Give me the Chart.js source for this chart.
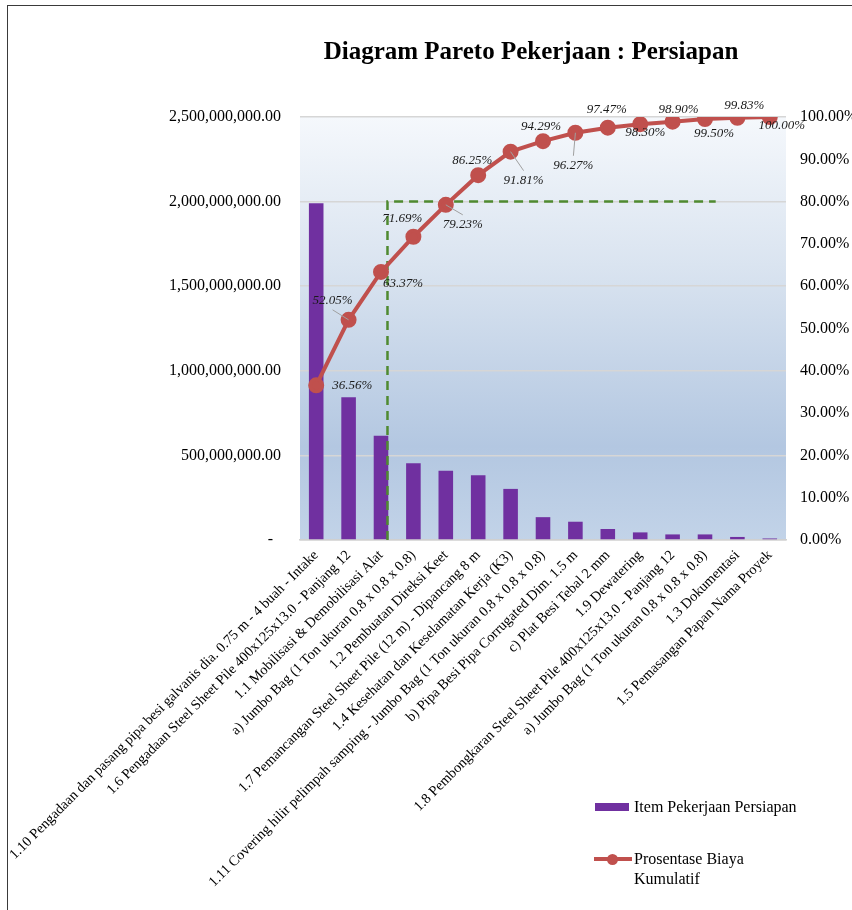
<!DOCTYPE html>
<html lang="id">
<head>
  <meta charset="UTF-8" />
  <title>Diagram Pareto Pekerjaan : Persiapan</title>
  <style>
    body {
      margin: 0;
      background: #fff;
      font-family: 'Liberation Serif', 'Times New Roman', serif;
      overflow: hidden;
    }
    .wrap {
      position: relative;
      width: 852px;
      height: 910px;
      overflow: hidden;
    }
    .frame {
      position: absolute;
      left: 7px;
      top: 5px;
      width: 900px;
      height: 1000px;
      border: 1.5px solid #3a3a3a;
    }
    h1 {
      position: absolute;
      left: 531px;
      top: 37px;
      margin: 0;
      transform: translateX(-50%);
      white-space: nowrap;
      font-size: 25px;
      font-weight: bold;
      color: #000;
    }
    canvas {
      position: absolute;
      left: 0;
      top: 0;
    }
    .legend {
      position: absolute;
      left: 594px;
      top: 797px;
      font-size: 16px;
      color: #000;
    }
    .legend .item {
      display: flex;
      align-items: flex-start;
      margin-bottom: 32px;
      line-height: 20px;
    }
    .legend .swatch {
      width: 36px;
      height: 20px;
      margin-right: 4px;
      position: relative;
      flex: none;
    }
    .legend .bar {
      position: absolute;
      left: 1px; top: 6px;
      width: 34px; height: 8px;
    }
    .legend .line {
      position: absolute;
      left: 0; top: 8px;
      width: 38px; height: 4px;
    }
    .legend .dot {
      position: absolute;
      left: 13px; top: 5px;
      width: 11px; height: 11px;
      border-radius: 50%;
    }
  </style>
</head>
<body>
  <div class="wrap">
    <div class="frame"></div>
    <canvas id="pareto" width="852" height="910"></canvas>
    <h1>Diagram Pareto Pekerjaan : Persiapan</h1>
    <div class="legend" id="legend"></div>
  </div>

  <script src="https://cdn.jsdelivr.net/npm/chart.js"></script>
  <script>
    // data
    const categories = [
      "1.10 Pengadaan dan pasang pipa besi galvanis dia. 0.75 m - 4 buah - Intake",
      "1.6 Pengadaan Steel Sheet Pile 400x125x13.0 - Panjang 12",
      "1.1 Mobilisasi & Demobilisasi Alat",
      "a) Jumbo Bag (1 Ton ukuran 0.8 x 0.8 x 0.8)",
      "1.2 Pembuatan Direksi Keet",
      "1.7 Pemancangan Steel Sheet Pile (12 m) - Dipancang 8 m",
      "1.4 Kesehatan dan Keselamatan Kerja (K3)",
      "1.11 Covering hilir pelimpah samping - Jumbo Bag (1 Ton ukuran 0.8 x 0.8 x 0.8)",
      "b) Pipa Besi Pipa Corrugated Dim. 1.5 m",
      "c) Plat Besi Tebal 2 mm",
      "1.9 Dewatering",
      "1.8 Pembongkaran Steel Sheet Pile 400x125x13.0 - Panjang 12",
      "a) Jumbo Bag (1 Ton ukuran 0.8 x 0.8 x 0.8)",
      "1.3 Dokumentasi",
      "1.5 Pemasangan Papan Nama Proyek"
    ];
    const itemCost = [
      1990000000, 843000000, 616000000, 453000000, 410000000,
      382000000, 302000000, 135000000, 108000000, 65000000,
      45000000, 33000000, 33000000, 18000000, 9000000
    ];
    const cumulativePct = [
      36.56, 52.05, 63.37, 71.69, 79.23, 86.25, 91.81, 94.29,
      96.27, 97.47, 98.30, 98.90, 99.50, 99.83, 100.00
    ];
    // 80% cut-off guide (x in category units)
    const cutoffX = [2.2, 2.2, 12.33];
    const cutoffY = [0, 80, 80];

    const costTicks = { max: 2500000000, step: 500000000 };
    const pctTicks = { max: 100, step: 10 };

    // where each percentage label sits relative to its point, and whether it has a leader line
    const labelPlace = [
      [36, 0, 0], [-16, -19, 1], [22, 12, 0], [-11, -18, 0], [17, 20, 1],
      [-6, -15, 0], [13, 29, 1], [-2, -15, 0], [-2, 33, 1], [-1, -18, 0],
      [5, 8, 0], [6, -12, 0], [9, 14, 0], [7, -12, 0], [12, 9, 0]
    ];

    const serif = "'Liberation Serif', 'Times New Roman', serif";
    const barColor = "#7030A0";
    const lineColor = "#C0504D";

    const plotBackground = {
      id: "plotBackground",
      beforeDraw(chart) {
        const { ctx, chartArea: a } = chart;
        const g = ctx.createLinearGradient(0, a.top, 0, a.bottom);
        g.addColorStop(0, "#f5f8fc");
        g.addColorStop(0.35, "#dae4f0");
        g.addColorStop(0.78, "#b3c7e1");
        g.addColorStop(1, "#c2d3e8");
        ctx.save();
        ctx.fillStyle = g;
        ctx.fillRect(a.left, a.top, a.right - a.left, a.bottom - a.top);
        ctx.restore();
      }
    };

    const pctLabels = {
      id: "pctLabels",
      afterDatasetsDraw(chart) {
        const ctx = chart.ctx;
        const meta = chart.getDatasetMeta(0);
        ctx.save();
        ctx.font = "italic 13px " + serif;
        ctx.textAlign = "center";
        ctx.textBaseline = "middle";
        meta.data.forEach((pt, i) => {
          const [dx, dy, leader] = labelPlace[i];
          const lx = pt.x + dx, ly = pt.y + dy;
          if (leader) {
            ctx.strokeStyle = "#a0a0a0";
            ctx.lineWidth = 1;
            ctx.beginPath();
            ctx.moveTo(pt.x, pt.y);
            ctx.lineTo(lx, ly + (dy < 0 ? 9 : -10));
            ctx.stroke();
          }
          ctx.fillStyle = "#1a1a1a";
          ctx.fillText(cumulativePct[i].toFixed(2) + "%", lx, ly);
        });
        ctx.restore();
      }
    };

    const chart = new Chart(document.getElementById("pareto"), {
      type: "bar",
      data: {
        labels: categories,
        datasets: [
          {
            type: "line",
            label: "Prosentase Biaya Kumulatif",
            data: cumulativePct,
            yAxisID: "yPct",
            borderColor: lineColor,
            backgroundColor: lineColor,
            borderWidth: 4,
            pointRadius: 6,
            pointHoverRadius: 6,
            order: 0
          },
          {
            type: "line",
            label: "cutoff",
            data: cutoffX.map((x, i) => ({ x: x, y: cutoffY[i] })),
            xAxisID: "xLin",
            yAxisID: "yPct",
            borderColor: "#4f8a30",
            borderWidth: 2.5,
            borderDash: [9, 6],
            pointRadius: 0,
            fill: false,
            order: 1
          },
          {
            type: "bar",
            label: "Item Pekerjaan Persiapan",
            data: itemCost,
            yAxisID: "yCost",
            backgroundColor: barColor,
            grouped: false,
            barPercentage: 0.45,
            categoryPercentage: 1,
            order: 2
          }
        ]
      },
      options: {
        responsive: false,
        animation: false,
        layout: { padding: { top: 117, left: 0, right: 0, bottom: 0 } },
        plugins: {
          legend: { display: false },
          tooltip: { enabled: false }
        },
        scales: {
          x: {
            type: "category",
            offset: true,
            grid: { display: false, drawTicks: false },
            border: { color: "#d0d0d0", width: 1.5 },
            ticks: {
              autoSkip: false,
              maxRotation: 45,
              minRotation: 45,
              padding: 7,
              color: "#000",
              font: { family: serif, size: 14.3 }
            },
            afterFit(s) {
              s.height = 370;
              // long first label may run past the left axis, as in the original
              s.paddingLeft = 0;
              s.paddingRight = 0;
            }
          },
          xLin: {
            type: "linear",
            display: false,
            offset: false,
            min: -0.5,
            max: 14.5
          },
          yCost: {
            position: "left",
            min: 0,
            max: costTicks.max,
            grid: { color: "#d6d6d6", lineWidth: 1.5, drawTicks: false },
            border: { display: false },
            ticks: {
              stepSize: costTicks.step,
              padding: 19,
              color: "#000",
              font: { family: serif, size: 16 },
              callback: v => v === 0 ? "-  " :
                v.toLocaleString("en-US", { minimumFractionDigits: 2, maximumFractionDigits: 2 })
            },
            afterFit(s) { s.width = 300; }
          },
          yPct: {
            position: "right",
            min: 0,
            max: pctTicks.max,
            grid: { display: false, drawTicks: false },
            border: { display: false },
            ticks: {
              stepSize: pctTicks.step,
              padding: 14,
              color: "#000",
              font: { family: serif, size: 16 },
              callback: v => v.toFixed(2) + "%"
            },
            afterFit(s) { s.width = 66; }
          }
        }
      },
      plugins: [plotBackground, pctLabels]
    });

    // legend in the lower right, built from the dataset labels
    const legendEl = document.getElementById("legend");
    [chart.data.datasets[2], chart.data.datasets[0]].forEach(ds => {
      const item = document.createElement("div");
      item.className = "item";
      const sw = document.createElement("span");
      sw.className = "swatch";
      if (ds.type === "bar") {
        sw.innerHTML = '<span class="bar" style="background:' + ds.backgroundColor + '"></span>';
      } else {
        sw.innerHTML = '<span class="line" style="background:' + ds.borderColor + '"></span>' +
          '<span class="dot" style="background:' + ds.borderColor + '"></span>';
      }
      const txt = document.createElement("span");
      txt.textContent = ds.label;
      txt.style.width = ds.type === "bar" ? "auto" : "150px";
      item.appendChild(sw);
      item.appendChild(txt);
      legendEl.appendChild(item);
    });
  </script>
</body>
</html>
